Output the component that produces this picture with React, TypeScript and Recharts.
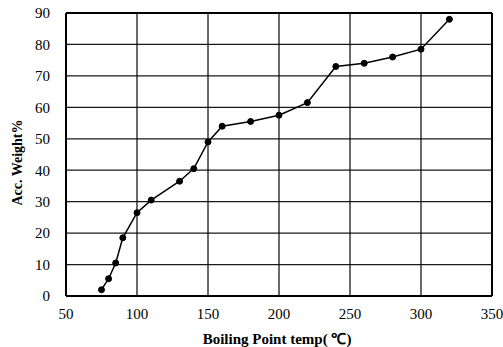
import React from 'react';
import { LineChart, Line, XAxis, YAxis, CartesianGrid, ReferenceLine } from 'recharts';

// boiling point (°C) vs accumulated weight (%)
const temps = [75, 80, 85, 90, 100, 110, 130, 140, 150, 160, 180, 200, 220, 240, 260, 280, 300, 320];
const accWeight = [2, 5.5, 10.5, 18.5, 26.5, 30.5, 36.5, 40.5, 49, 54, 55.5, 57.5, 61.5, 73, 74, 76, 78.5, 88];

const xTicks = [50, 100, 150, 200, 250, 300, 350];
const yTicks = [0, 10, 20, 30, 40, 50, 60, 70, 80, 90];

const data = temps.map((t, i) => ({ temp: t, weight: accWeight[i] }));

const font = '"Liberation Serif", "Times New Roman", serif';

const YLabel = (props: any) => {
  const vb = props.viewBox || {};
  const cx = 17;
  const cy = vb.y + vb.height / 2 + 8;
  return (
    <text
      x={cx}
      y={cy}
      transform={`rotate(-90, ${cx}, ${cy})`}
      textAnchor="middle"
      dominantBaseline="central"
      fontFamily={font}
      fontWeight="bold"
      fontSize={14}
      fill="#000"
    >
      Acc. Weight%
    </text>
  );
};

const App = () => {
  return (
    <div style={{ position: 'absolute', left: 0, top: 0, width: 503, height: 347, background: '#fff' }}>
      <LineChart width={503} height={347} data={data} margin={{ top: 13, right: 11, bottom: 0, left: 0 }}>
        <CartesianGrid stroke="#000" strokeWidth={1.3} strokeOpacity={0.9} />
        <XAxis
          dataKey="temp"
          type="number"
          domain={[50, 350]}
          ticks={xTicks}
          interval={0}
          height={51}
          tickLine={false}
          tickSize={10}
          axisLine={{ stroke: '#000', strokeWidth: 2 }}
          tick={{ fill: '#000', fontSize: 15, fontFamily: font }}
          label={{
            value: 'Boiling Point temp( \u2103)',
            position: 'insideBottom',
            offset: 3,
            dx: -2,
            fill: '#000',
            fontSize: 15,
            fontWeight: 'bold',
            fontFamily: font,
          }}
        />
        <YAxis
          type="number"
          domain={[0, 90]}
          ticks={yTicks}
          interval={0}
          width={66}
          tickLine={false}
          tickSize={14}
          axisLine={{ stroke: '#000', strokeWidth: 2 }}
          tick={{ fill: '#000', fontSize: 15, fontFamily: font }}
          label={<YLabel />}
        />
        <ReferenceLine y={90} stroke="#000" strokeWidth={2} />
        <ReferenceLine x={350} stroke="#000" strokeWidth={2} />
        <Line
          type="linear"
          dataKey="weight"
          stroke="#000"
          strokeWidth={1.5}
          dot={{ r: 3, fill: '#000', stroke: '#000', strokeWidth: 1 }}
          isAnimationActive={false}
        />
      </LineChart>
    </div>
  );
};

export default App;
